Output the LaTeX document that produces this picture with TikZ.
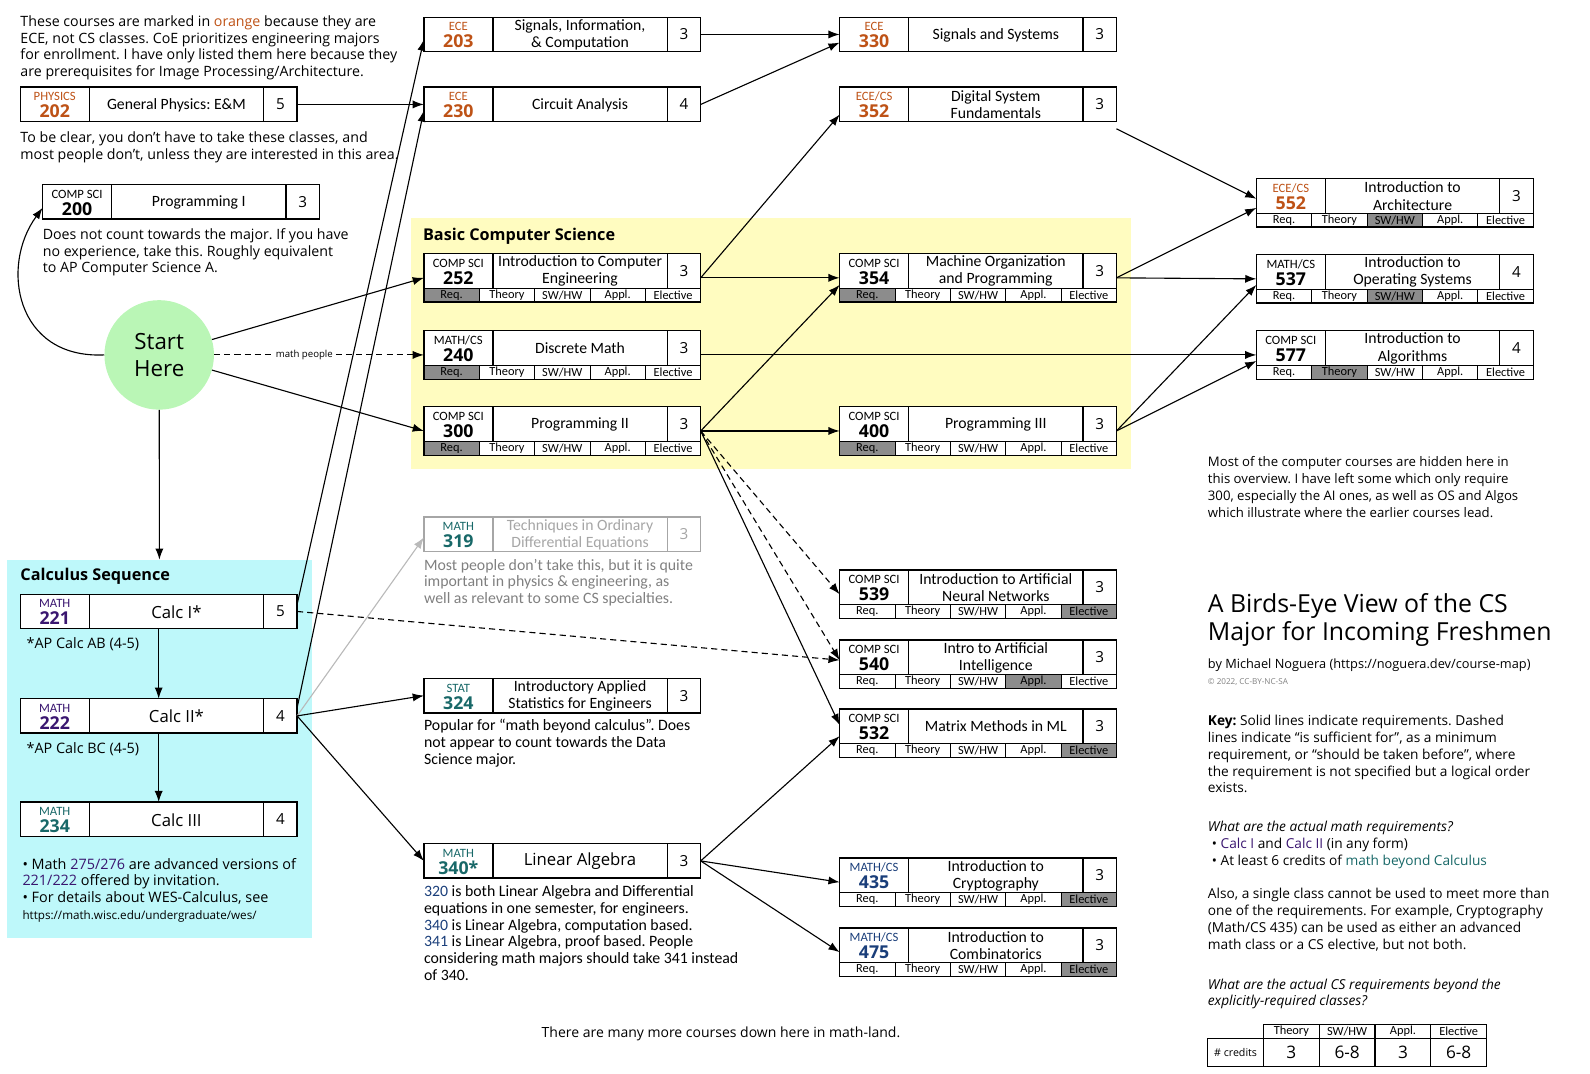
\documentclass[tikz,border=0pt]{standalone}
\usepackage{fontspec}
\setmainfont{Open Sans}
\newfontfamily\condfont{Carlito}
\usetikzlibrary{arrows.meta}

\definecolor{eceorange}{RGB}{190,82,22}
\definecolor{mathpurple}{RGB}{58,22,112}
\definecolor{mathteal}{RGB}{24,104,104}
\definecolor{mathblue}{RGB}{26,62,122}
\definecolor{csyellow}{RGB}{255,252,192}
\definecolor{calccyan}{RGB}{190,248,250}
\definecolor{startgreen}{RGB}{186,246,182}
\definecolor{tagshade}{RGB}{140,140,140}

\newcommand{\bodyfont}{\fontsize{13.5}{16.6}\selectfont}
\newcommand{\leftfont}{\fontsize{14}{16.6}\selectfont}
\newcommand{\calcfont}{\fontsize{14.2}{16.6}\selectfont}
\newcommand{\condnotefont}{\condfont\fontsize{15.6}{16.6}\selectfont}
\newcommand{\deptfont}{\condfont\fontsize{12.5}{13}\selectfont}
\newcommand{\numfont}{\bfseries\fontsize{17.5}{18}\selectfont}
\newcommand{\titlefont}{\condfont\fontsize{15.5}{17}\selectfont}
\newcommand{\tagfont}{\condfont\fontsize{12.2}{12}\selectfont}
\newcommand{\credfont}{\fontsize{15}{15}\selectfont}
\newcommand{\bigtitle}{\normalfont\fontsize{16.5}{18}\selectfont}
\newcommand{\headfont}{\bfseries\fontsize{16}{18}\selectfont}
\newcommand{\startfont}{\fontsize{22}{26}\selectfont}
\newcommand{\pillfont}{\fontsize{9.5}{10}\selectfont}
\newcommand{\mapfont}{\fontsize{24.5}{28}\selectfont}
\newcommand{\byfont}{\fontsize{12.6}{14}\selectfont}
\newcommand{\licfont}{\fontsize{8}{10}\selectfont}

% [border colour] name, north west corner, dept colour, dept, number, title, credits, shaded tag (0 = no tag row)
\newcommand{\course}[9][black]{%
  \ifnum#9=0\relax \def\boxh{34}\else \def\boxh{48}\fi
  \node[mainbox,draw=#1,minimum height=\boxh] (#2) at (#3) {};
  \node[deptcell,text=#4] (#2-dept) at ([xshift=34,yshift=-9.5]#2.north west) {#5};
  \node[numcell,text=#4] (#2-num) at ([xshift=34,yshift=-24]#2.north west) {#6};
  \node[titlecell,text=#1] (#2-title) at ([xshift=154,yshift=-17.5]#2.north west) {#7};
  \node[credcell,text=#1] (#2-cred) at ([xshift=-16.5,yshift=-17]#2.north east) {#8};
  \draw[boxline,draw=#1] ([xshift=68]#2.north west) -- ([xshift=68,yshift=-34]#2.north west);
  \draw[boxline,draw=#1] ([xshift=-33]#2.north east) -- ([xshift=-33,yshift=-34]#2.north east);
  \ifnum#9>0\relax
    \foreach \lab [count=\i] in {Req.,Theory,SW/HW,Appl.,Elective}{
      \ifnum\i=#9\relax \def\tagfill{tagshade}\else \def\tagfill{white}\fi
      \node[tagcell,fill=\tagfill] (#2-tag\i) at ([xshift={(\i-1)*54.6},yshift=-34]#2.north west) {\lab};
    }
    \draw[boxline] (#2.north west) rectangle (#2.south east);
  \fi
}

\begin{document}
\frenchspacing
\begin{tikzpicture}[x=1pt,y=-1pt]
  \tikzstyle{mainbox} = [rectangle, fill=white, line width=1.4, minimum width=273, inner sep=0, outer sep=0, anchor=north west]
  \tikzstyle{deptcell} = [inner sep=0, font=\deptfont]
  \tikzstyle{numcell} = [inner sep=0, font=\numfont]
  \tikzstyle{titlecell} = [align=center, inner sep=0, font=\titlefont]
  \tikzstyle{credcell} = [inner sep=0, font=\credfont]
  \tikzstyle{tagcell} = [rectangle, draw=black, line width=0.8, minimum width=54.6, minimum height=14, inner sep=0, outer sep=0, anchor=north west, font=\tagfont]
  \tikzstyle{tabcell} = [rectangle, draw=black, line width=1.2, anchor=north west, inner sep=0, outer sep=0]
  \tikzstyle{boxline} = [line width=1.4]
  \tikzstyle{note} = [anchor=north west, inner sep=0, align=left, font=\bodyfont]
  \tikzstyle{lnote} = [note, font=\leftfont]
  \tikzstyle{cnote} = [note, font=\condnotefont]
  \tikzstyle{heading} = [anchor=north west, inner sep=0, font=\headfont]
  \tikzstyle{region} = [rectangle, anchor=north west, inner sep=0, draw=none]
  \tikzstyle{startnode} = [circle, fill=startgreen, minimum size=108, inner sep=0, align=center, font=\startfont]
  \tikzstyle{pill} = [fill=white, inner sep=1.5, font=\pillfont]
  \tikzstyle{line} = [-{Latex[length=11pt,width=8pt]}, draw=black, line width=1.1]
  \tikzstyle{dashline} = [line, dash pattern=on 6pt off 4pt]
  \tikzstyle{fadeline} = [line, draw=gray!55]
  \useasboundingbox (0,0) rectangle (1568,1059);

  % shaded areas
  \node[region,fill=csyellow,minimum width=710,minimum height=247] (cs-area) at (405,215) {};
  \node[region,fill=calccyan,minimum width=300,minimum height=373] (calc-area) at (7,552) {};
  \node[heading] (cs-title) at (417,225) {Basic Computer Science};
  \node[heading] (calc-title) at (20,560) {Calculus Sequence};

  % notes
  \node[lnote] (ece-note) at (20,15) {These courses are marked in \textcolor{eceorange}{orange} because they are\\ECE, not CS classes. CoE prioritizes engineering majors\\for enrollment. I have only listed them here because they\\are prerequisites for Image Processing/Architecture.};
  \node[lnote] (clear-note) at (20,130) {To be clear, you don’t have to take these classes, and\\most people don’t, unless they are interested in this area.};
  \node[lnote] (c200-note) at (42,225) {Does not count towards the major. If you have\\no experience, take this. Roughly equivalent\\to AP Computer Science A.};
  \node[cnote,text=gray] (c319-note) at (418,551) {Most people don’t take this, but it is quite\\important in physics \& engineering, as\\well as relevant to some CS specialties.};
  \node[cnote] (c324-note) at (418,709) {Popular for “math beyond calculus”. Does\\not appear to count towards the Data\\Science major.};
  \node[cnote] (c340-note) at (418,873) {\textcolor{mathblue}{320} is both Linear Algebra and Differential\\equations in one semester, for engineers.\\\textcolor{mathblue}{340} is Linear Algebra, computation based.\\\textcolor{mathblue}{341} is Linear Algebra, proof based. People\\considering math majors should take 341 instead\\of 340.};
  \node[note,font=\calcfont] (calc-ab) at (26,629) {*AP Calc AB (4-5)};
  \node[note,font=\calcfont] (calc-bc) at (26,732) {*AP Calc BC (4-5)};
  \node[note,font=\calcfont] (calc-note) at (22,846) {• Math \textcolor{mathpurple}{275/276} are advanced versions of\\\textcolor{mathpurple}{221/222} offered by invitation.\\• For details about WES-Calculus, see\\{\fontsize{11.5}{14}\selectfont https://math.wisc.edu/undergraduate/wes/}};
  \node[note,anchor=north,font=\fontsize{13.8}{16.6}\selectfont] (mathland) at (711,1012) {There are many more courses down here in math-land.};

  \node[note,font=\fontsize{13}{16.6}\selectfont] (hidden-note) at (1191,450) {Most of the computer courses are hidden here in\\this overview. I have left some which only require\\300, especially the AI ones, as well as OS and Algos\\which illustrate where the earlier courses lead.};
  \node[note,font=\mapfont] (map-title) at (1191,585) {A Birds-Eye View of the CS\\Major for Incoming Freshmen};
  \node[note,font=\byfont] (byline) at (1191,649) {by Michael Noguera (https://noguera.dev/course-map)};
  \node[note,font=\licfont,text=gray] (licence) at (1191,669) {© 2022, CC-BY-NC-SA};
  \node[note] (key-note) at (1191,705) {\textbf{Key:} Solid lines indicate requirements. Dashed\\lines indicate “is sufficient for”, as a minimum\\requirement, or “should be taken before”, where\\the requirement is not specified but a logical order\\exists.};
  \node[note] (math-req) at (1191,810) {\textit{What are the actual math requirements?}\\\hspace*{4pt}• \textcolor{mathpurple}{Calc I} and \textcolor{mathpurple}{Calc II} (in any form)\\\hspace*{4pt}• At least 6 credits of \textcolor{mathteal}{math beyond Calculus}};
  \node[note] (also-note) at (1191,876) {Also, a single class cannot be used to meet more than\\one of the requirements. For example, Cryptography\\(Math/CS 435) can be used as either an advanced\\math class or a CS elective, but not both.};
  \node[note] (cs-req) at (1191,965) {\textit{What are the actual CS requirements beyond the}\\\textit{explicitly-required classes?}};

  % credits table
  \node[tabcell,minimum width=55,minimum height=28,font=\fontsize{10.5}{11}\selectfont] (tab-label) at (1191,1024) {\# credits};
  \foreach \lab/\val [count=\i] in {Theory/3,{SW/HW}/{6-8},Appl./3,Elective/{6-8}}{
    \node[tabcell,minimum width=55,minimum height=14,font=\tagfont] (tab-head\i) at ({1246+(\i-1)*55},1010) {\lab};
    \node[tabcell,minimum width=55,minimum height=28,font=\fontsize{17}{17}\selectfont] (tab-val\i) at ({1246+(\i-1)*55},1024) {\val};
  }

  % courses
  \course{c202}{20,86}{eceorange}{PHYSICS}{202}{General Physics: E\&M}{5}{0}
  \course{c200}{42,182}{black}{COMP SCI}{200}{Programming I}{3}{0}
  \course{c203}{418,17}{eceorange}{ECE}{203}{Signals, Information,\\\& Computation}{3}{0}
  \course{c230}{418,86}{eceorange}{ECE}{230}{Circuit Analysis}{4}{0}
  \course{c330}{828,17}{eceorange}{ECE}{330}{Signals and Systems}{3}{0}
  \course{c352}{828,86}{eceorange}{ECE/CS}{352}{Digital System\\Fundamentals}{3}{0}
  \course{c252}{418,250}{black}{COMP SCI}{252}{Introduction to Computer\\Engineering}{3}{1}
  \course{c240}{418,326}{black}{MATH/CS}{240}{Discrete Math}{3}{1}
  \course{c300}{418,401}{black}{COMP SCI}{300}{Programming II}{3}{1}
  \course{c354}{828,250}{black}{COMP SCI}{354}{Machine Organization\\and Programming}{3}{1}
  \course{c400}{828,401}{black}{COMP SCI}{400}{Programming III}{3}{1}
  \course{c552}{1239,176}{eceorange}{ECE/CS}{552}{Introduction to\\Architecture}{3}{3}
  \course{c537}{1239,251}{black}{MATH/CS}{537}{Introduction to\\Operating Systems}{4}{3}
  \course{c577}{1239,326}{black}{COMP SCI}{577}{Introduction to\\Algorithms}{4}{2}
  \course[gray!70]{c319}{418,510}{mathteal}{MATH}{319}{Techniques in Ordinary\\Differential Equations}{3}{0}
  \course{c539}{828,562}{black}{COMP SCI}{539}{Introduction to Artificial\\Neural Networks}{3}{5}
  \course{c540}{828,631}{black}{COMP SCI}{540}{Intro to Artificial\\Intelligence}{3}{4}
  \course{c532}{828,699}{black}{COMP SCI}{532}{Matrix Methods in ML}{3}{5}
  \course{c324}{418,669}{mathteal}{STAT}{324}{Introductory Applied\\Statistics for Engineers}{3}{0}
  \course{c340}{418,832}{mathteal}{MATH}{340*}{\bigtitle Linear Algebra}{3}{0}
  \course{c435}{828,846}{mathblue}{MATH/CS}{435}{Introduction to\\Cryptography}{3}{5}
  \course{c475}{828,915}{mathblue}{MATH/CS}{475}{Introduction to\\Combinatorics}{3}{5}
  \course{c221}{20,586}{mathpurple}{MATH}{221}{\bigtitle Calc I*}{5}{0}
  \course{c222}{20,689}{mathpurple}{MATH}{222}{\bigtitle Calc II*}{4}{0}
  \course{c234}{20,791}{mathteal}{MATH}{234}{\bigtitle Calc III}{4}{0}

  \node[startnode] (start) at (157,350) {Start\\Here};

  % connectors
  \draw[line] (start.west) .. controls (15,354) and (0,262) .. ([yshift=-6]c200.west);
  \draw[line] (start) -- (c252.west);
  \draw[dashline] (start) -- node[pill,pos=0.43] {math people} (c240.west);
  \draw[line] (start) -- (calc-area.north);
  \draw[line] (start) -- (c300.west);
  \draw[line] (c202.east) -- (c230.west);
  \draw[line] ([yshift=7]c221.east) -- ([yshift=-5]c203.west);
  \draw[line] ([yshift=8]c222.east) -- ([yshift=-6]c230.west);
  \draw[line] (c221.south) -- (c222.north);
  \draw[line] (c222.south) -- (c234.north);
  \draw[line] (c203.east) -- (c330.west);
  \draw[line] (c230.east) -- ([yshift=-8]c330.west);
  \draw[line] (c252.east) -- ([yshift=-10]c352.west);
  \draw[line] (c252.east) -- (c354.west);
  \draw[line] (c300.east) -- ([yshift=-7]c354.west);
  \draw[line] (c300.east) -- (c400.west);
  \draw[dashline] (c300.east) -- (c539.west);
  \draw[dashline] (c300.east) -- ([yshift=4]c540.west);
  \draw[line] (c300.east) -- ([yshift=8]c532.west);
  \draw[dashline] (c221.east) -- ([yshift=4]c540.west);
  \draw[fadeline] (c222.east) -- ([yshift=-3]c319.west);
  \draw[line] (c222.east) -- (c324.west);
  \draw[line] (c222.east) -- (c340.west);
  \draw[line] (c340.east) -- ([yshift=-3]c532.west);
  \draw[line] (c340.east) -- (c435.west);
  \draw[line] (c340.east) -- (c475.west);
  \draw[line] ([yshift=-7]c352.south east) -- ([yshift=4]c552.west);
  \draw[line] (c354.east) -- ([yshift=-5]c552.west);
  \draw[line] (c354.east) -- (c537.west);
  \draw[line] (c240.east) -- (c577.west);
  \draw[line] (c400.east) -- ([yshift=-6]c537.west);
  \draw[line] (c400.east) -- ([yshift=-6]c577.west);
\end{tikzpicture}
\end{document}
